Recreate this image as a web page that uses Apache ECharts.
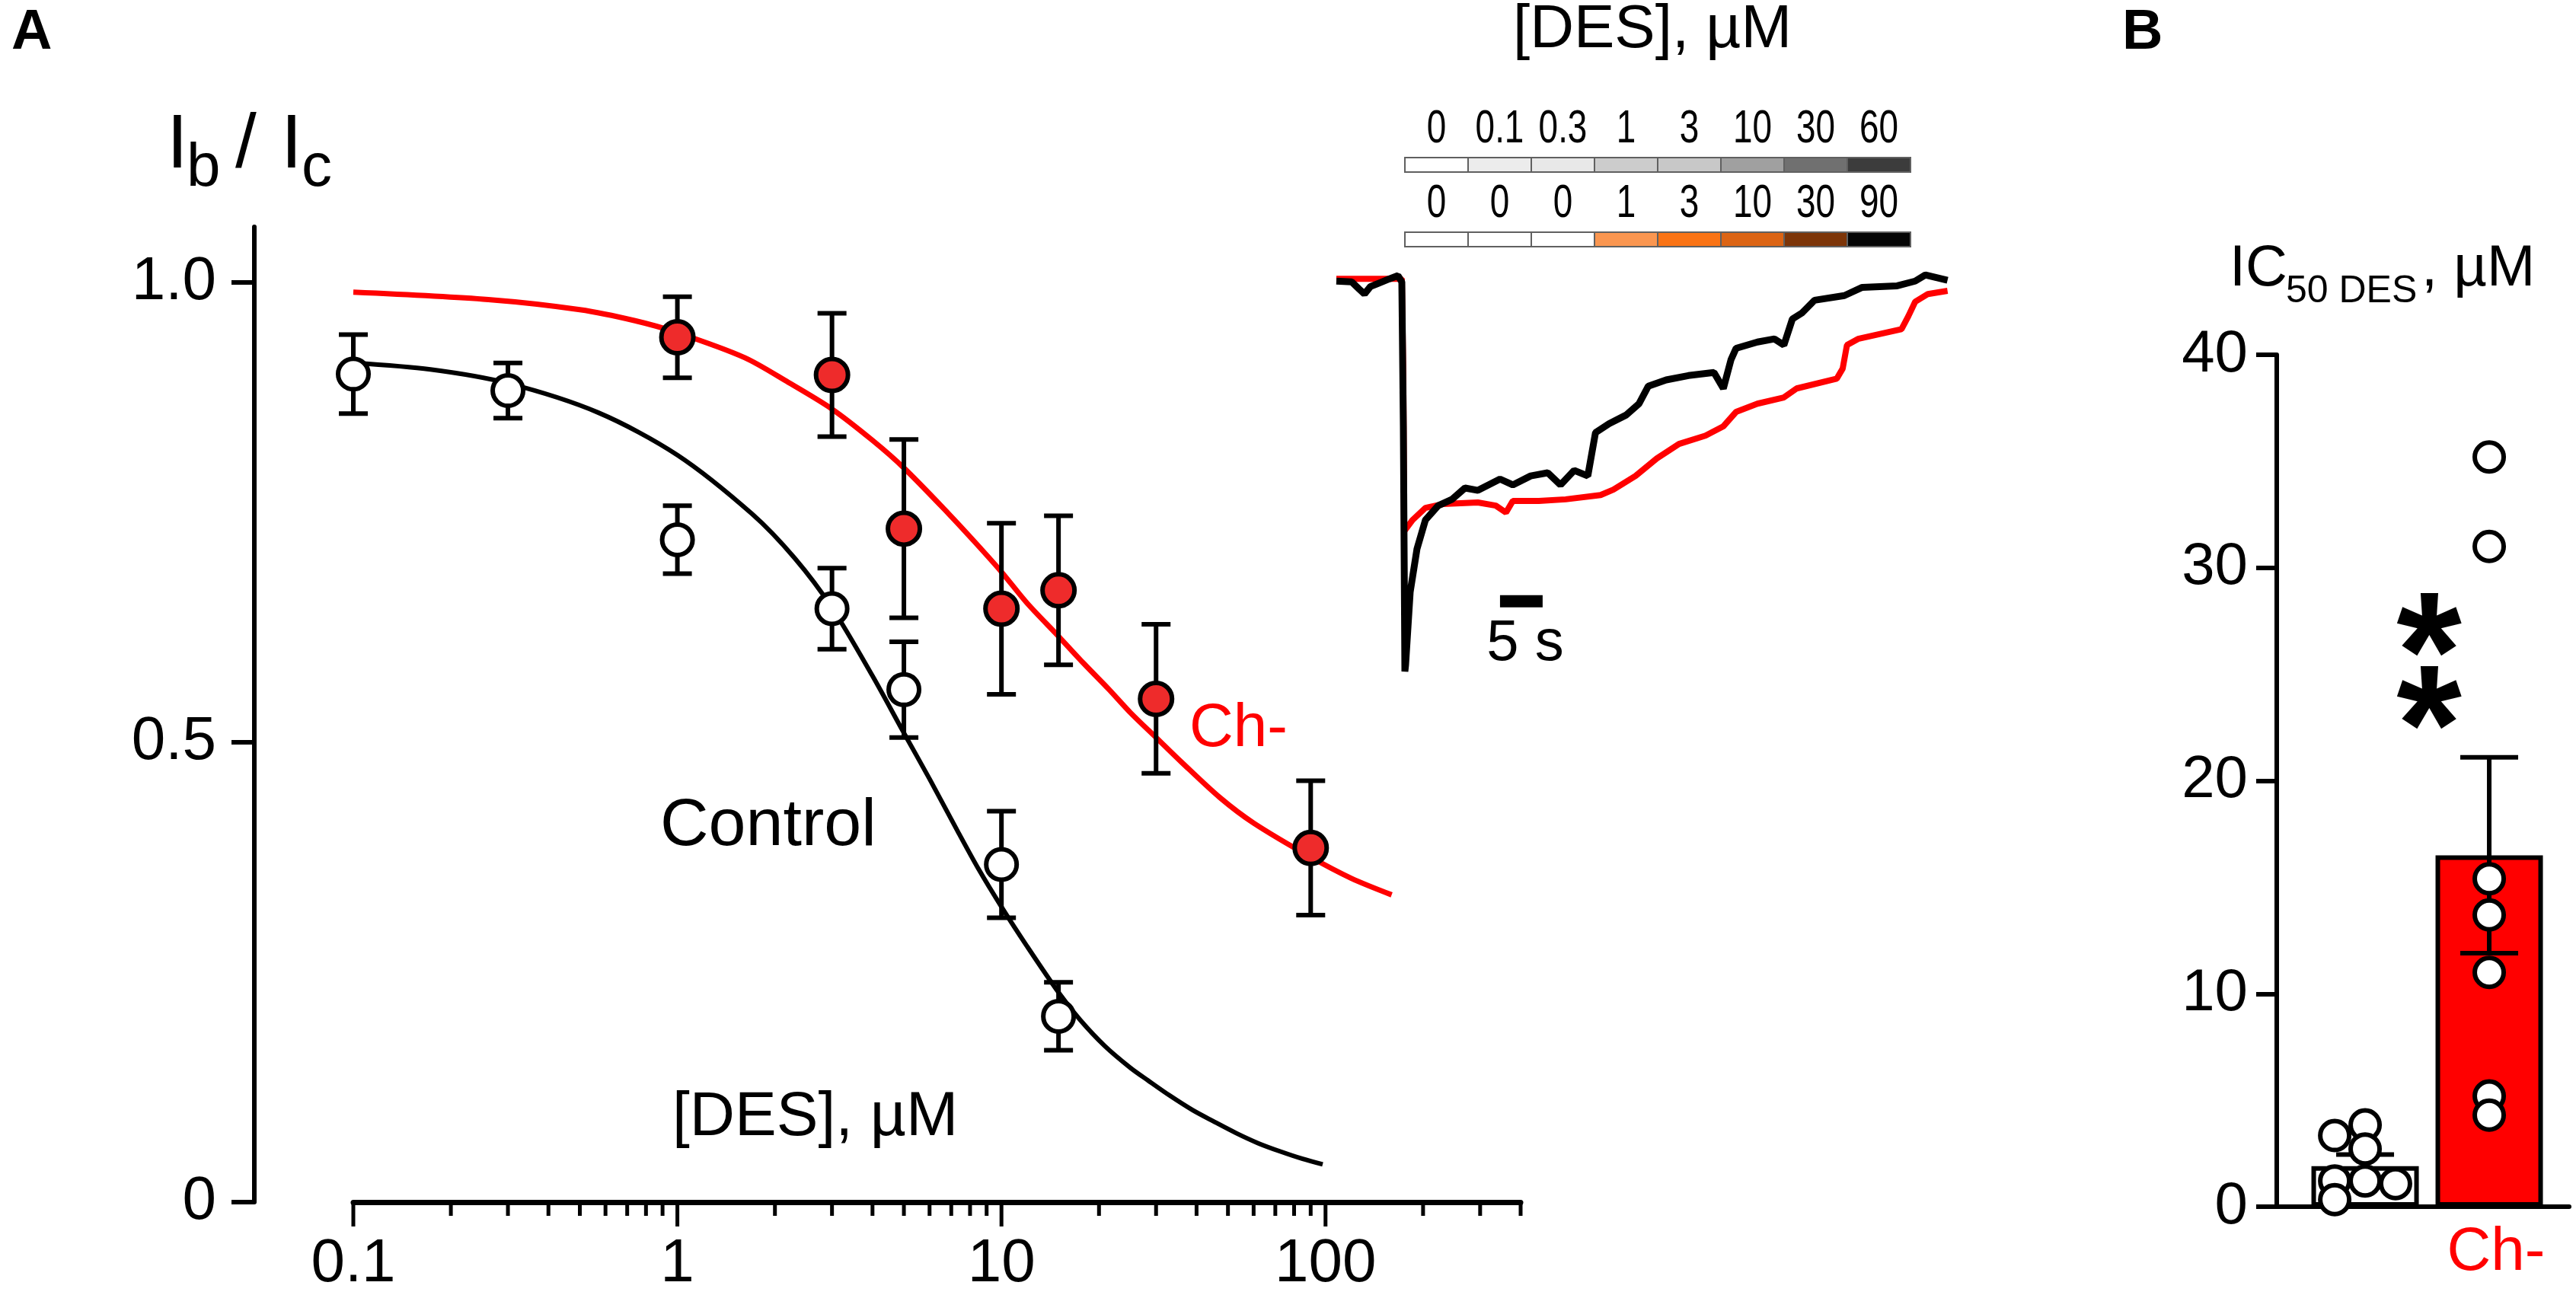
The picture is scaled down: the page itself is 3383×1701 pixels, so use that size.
<!DOCTYPE html>
<html lang="en">
<head>
<meta charset="UTF-8">
<title>DES block, control vs Ch-</title>
<script src="https://cdn.jsdelivr.net/npm/echarts@6.0.0/dist/echarts.min.js"></script>
<style>
    html, body { margin: 0; padding: 0; background: #fff; }
    #main { width: 3383px; height: 1701px; }
</style>
</head>
<body>
<div id="main"></div>
<script type="text/javascript">
// ---- panel A: concentration-response ----
var ctrlConc = [0.1, 0.3, 1, 3, 5, 10, 15];
var ctrlMean = [0.900, 0.882, 0.720, 0.645, 0.557, 0.367, 0.202];
var ctrlSem  = [0.043, 0.030, 0.037, 0.044, 0.052, 0.058, 0.037];

var chConc = [1, 3, 5, 10, 15, 30, 90];
var chMean = [0.940, 0.899, 0.732, 0.645, 0.665, 0.547, 0.385];
var chSem  = [0.044, 0.067, 0.097, 0.093, 0.081, 0.081, 0.073];

// fitted curves
var ctrlFitX = [0.1, 0.173, 0.3, 0.571, 1, 1.7, 2.3, 3, 4, 5, 6, 7.28, 8.5, 10, 12, 15, 17.5, 20.8,
                25, 28.4, 33, 38.9, 45, 53, 62, 72.6, 85, 98];
var ctrlFitY = [0.912, 0.905, 0.890, 0.858, 0.812, 0.748, 0.700, 0.646, 0.572, 0.510, 0.460, 0.405,
                0.362, 0.321, 0.278, 0.228, 0.198, 0.170, 0.146, 0.132, 0.116, 0.100, 0.088, 0.075,
                0.064, 0.055, 0.047, 0.041];
var chFitX = [0.1, 0.261, 0.5, 0.74, 1, 1.61, 2.2, 3, 4, 5, 6.88, 8.3, 10, 12, 15, 18, 21.5, 25, 30,
              36, 47.1, 60, 90, 120, 160];
var chFitY = [0.989, 0.981, 0.970, 0.958, 0.945, 0.918, 0.891, 0.862, 0.828, 0.798, 0.748, 0.717,
              0.685, 0.651, 0.615, 0.585, 0.557, 0.532, 0.505, 0.478, 0.440, 0.412, 0.375, 0.352, 0.334];

var xMajor = [0.1, 1, 10, 100];
var xMinor = [0.2, 0.3, 0.4, 0.5, 0.6, 0.7, 0.8, 0.9, 2, 3, 4, 5, 6, 7, 8, 9,
              20, 30, 40, 50, 60, 70, 80, 90, 200, 300, 400];
var yTicksA = [0, 0.5, 1];

// ---- inset: current traces (time s, normalised current) ----
var ctrlTraceT = [0, 1.8, 2.7, 3.3, 4.0, 4.9, 6.25, 7.23, 7.68, 7.86, 8.04, 8.12, 8.66, 9.46, 10.45, 11.96,
                  13.57, 15.09, 16.61, 19.2, 20.7, 22.8, 24.8, 26.3, 27.9, 29.5, 30.4, 32.0, 34.0, 35.5,
                  36.6, 38.7, 41.3, 44.3, 45.4, 46.3, 46.9, 49.4, 51.4, 52.5, 53.5, 54.6, 56.1, 59.6,
                  61.7, 65.8, 67.9, 69.1, 71.7];
var ctrlTraceI = [0, -0.002, -0.021, -0.033, -0.014, -0.006, 0.006, 0.014, -0.002, -0.372, -1.0, -0.984, -0.797,
                  -0.686, -0.612, -0.575, -0.559, -0.530, -0.536, -0.507, -0.522, -0.499, -0.491, -0.522,
                  -0.485, -0.499, -0.388, -0.365, -0.343, -0.314, -0.269, -0.253, -0.242, -0.234, -0.275,
                  -0.201, -0.172, -0.156, -0.148, -0.164, -0.097, -0.082, -0.049, -0.037, -0.016, -0.012,
                  0, 0.016, 0.002];
var chTraceT = [0, 7.68, 7.86, 7.95, 8.93, 10.45, 12.5, 16.6, 18.7, 19.9, 20.7, 23.75, 26.9, 31.0, 32.5, 35.1,
                37.6, 40.2, 43.3, 45.4, 46.9, 49.4, 52.5, 54.0, 58.7, 59.4, 59.9, 61.2, 66.3, 67.1, 67.9,
                69.4, 71.7];
var chTraceI = [0.006, 0.006, -0.255, -0.641, -0.612, -0.581, -0.571, -0.567, -0.575, -0.593, -0.563, -0.563,
                -0.559, -0.548, -0.534, -0.499, -0.454, -0.417, -0.396, -0.372, -0.335, -0.314, -0.298,
                -0.275, -0.250, -0.224, -0.164, -0.148, -0.123, -0.090, -0.053, -0.033, -0.025];
var scaleBarT = [19.2, 24.2];

var stepLabelsCtrl = ['0', '0.1', '0.3', '1', '3', '10', '30', '60'];
var stepLabelsCh   = ['0', '0', '0', '1', '3', '10', '30', '90'];
var stepGray   = ['#ffffff', '#ececec', '#e8e8e8', '#cccccc', '#c8c8c8', '#a0a0a0', '#707070', '#3c3c3c'];
var stepOrange = ['#ffffff', '#ffffff', '#ffffff', '#fa9650', '#fa7314', '#dc6414', '#7d3508', '#050505'];

// ---- panel B: IC50 ----
var groups = ['Control', 'Ch-'];
var icMean = [1.9, 16.5];
var icSem  = [0.55, 4.6];
var icCtrl = [3.34, 3.84, 2.71, 1.21, 1.21, 1.08, 0.33];
var icCtrlCol = [-1, 0, 0, -1, 0, 1, -1];
var icCh = [35.2, 31.0, 15.4, 13.7, 11.0, 5.2, 4.3];

var FONT = "'Liberation Sans', Arial, Helvetica, sans-serif";
var RED = '#ff0000';

function zip(a, b) {
    var out = [];
    for (var i = 0; i < a.length; i++) out.push([a[i], b[i]]);
    return out;
}
function zip3(a, b, c) {
    var out = [];
    for (var i = 0; i < a.length; i++) out.push([a[i], b[i], c[i]]);
    return out;
}

// vertical error bar with caps
function errorBar(capHalf, width) {
    return function (params, api) {
        var x = api.value(0), m = api.value(1), e = api.value(2);
        var top = api.coord([x, m + e]);
        var bot = api.coord([x, m - e]);
        var st = {stroke: '#000', lineWidth: width};
        return {
            type: 'group',
            children: [
                {type: 'line', shape: {x1: top[0], y1: top[1], x2: bot[0], y2: bot[1]}, style: st},
                {type: 'line', shape: {x1: top[0] - capHalf, y1: top[1], x2: top[0] + capHalf, y2: top[1]}, style: st},
                {type: 'line', shape: {x1: bot[0] - capHalf, y1: bot[1], x2: bot[0] + capHalf, y2: bot[1]}, style: st}
            ]
        };
    };
}

var xTickData = xMajor.map(function (v) { return [v, 0, 1]; })
    .concat(xMinor.map(function (v) { return [v, 0, 0]; }));

var stepCells = [];
stepLabelsCtrl.forEach(function (l, i) { stepCells.push({i: i, row: 0, label: l, color: stepGray[i]}); });
stepLabelsCh.forEach(function (l, i) { stepCells.push({i: i, row: 1, label: l, color: stepOrange[i]}); });

var jitterStep = 0.245;
var ctrlDots = icCtrl.map(function (v, i) { return [1 + icCtrlCol[i] * jitterStep, v]; });
var chDots = icCh.map(function (v) { return [2, v]; });

function txt(x, y, s, size, opts) {
    opts = opts || {};
    return {
        type: 'text', x: x, y: y, z: 50,
        style: {
            text: s, fontSize: size, fontFamily: FONT, fontWeight: opts.bold ? 'bold' : 'normal',
            fill: opts.color || '#000', align: opts.align || 'left', verticalAlign: 'middle'
        }
    };
}

var myChart = echarts.init(document.getElementById('main'));
myChart.setOption({
    backgroundColor: '#ffffff',
    animation: false,
    textStyle: {fontFamily: FONT, color: '#000'},
    grid: [
        {left: 464, top: 298, width: 1533, height: 1289},   // A
        {left: 1755, top: 359, width: 806, height: 523},    // inset traces
        {left: 1845, top: 207, width: 664, height: 98},     // step bars
        {left: 2990, top: 466, width: 384, height: 1119}    // B
    ],
    xAxis: [
        {
            gridIndex: 0, type: 'log', logBase: 10, min: 0.1, max: 400,
            axisLine: {show: true, onZero: false, lineStyle: {color: '#000', width: 7}},
            axisTick: {show: false},
            splitLine: {show: false},
            axisLabel: {
                fontSize: 80, color: '#000', margin: 42, fontFamily: FONT,
                formatter: function (v) {
                    for (var i = 0; i < xMajor.length; i++) {
                        if (Math.abs(v - xMajor[i]) < 1e-6 * xMajor[i]) return String(xMajor[i]);
                    }
                    return '';
                }
            }
        },
        {gridIndex: 1, type: 'value', min: 0, max: 72, show: false},
        {gridIndex: 2, type: 'value', min: 0, max: 8, show: false},
        {
            gridIndex: 3, type: 'value', min: 0.288, max: 2.644,
            axisLine: {show: true, onZero: false, lineStyle: {color: '#000', width: 6}},
            axisTick: {show: false}, axisLabel: {show: false}, splitLine: {show: false}
        }
    ],
    yAxis: [
        {
            gridIndex: 0, type: 'value', min: 0, max: 1.06, offset: 130,
            axisLine: {show: true, onZero: false, lineStyle: {color: '#000', width: 6}},
            axisTick: {show: true, length: 30, customValues: yTicksA, lineStyle: {color: '#000', width: 6}},
            splitLine: {show: false},
            axisLabel: {
                fontSize: 80, color: '#000', margin: 50, fontFamily: FONT, customValues: yTicksA,
                formatter: function (v) {
                    if (yTicksA.indexOf(v) < 0) return '';
                    return v === 0 ? '0' : v.toFixed(1);
                }
            }
        },
        {gridIndex: 1, type: 'value', min: -1, max: 0.02, show: false},
        {gridIndex: 2, type: 'value', min: 0, max: 1, inverse: true, show: false},
        {
            gridIndex: 3, type: 'value', min: 0, max: 40, interval: 10,
            axisLine: {show: true, onZero: false, lineStyle: {color: '#000', width: 6}},
            axisTick: {show: true, length: 27, lineStyle: {color: '#000', width: 6}},
            splitLine: {show: false},
            axisLabel: {fontSize: 78, color: '#000', margin: 38, fontFamily: FONT}
        }
    ],
    graphic: [
        txt(15, 44, 'A', 74, {bold: true}),
        txt(2787, 44, 'B', 74, {bold: true}),
        // Ib / Ic
        txt(219, 192, 'I', 100),
        txt(245, 222, 'b', 80),
        txt(323, 192, '/', 100, {align: 'center'}),
        txt(369, 192, 'I', 100),
        txt(396, 222, 'c', 80),
        txt(883, 1468, '[DES], \u00b5M', 82),
        txt(867, 1086, 'Control', 88),
        txt(1562, 958, 'Ch-', 80, {color: RED}),
        // inset
        txt(2170, 40, '[DES], \u00b5M', 80, {align: 'center'}),
        txt(2003, 846, '5 s', 76, {align: 'center'}),
        // panel B
        txt(2928, 354, 'IC', 76),
        txt(3002, 383, '50 DES', 50),
        txt(3180, 354, ', \u00b5M', 76),
        txt(3278, 1646, 'Ch-', 80, {color: RED, align: 'center'}),
        txt(3190, 870, '*', 220, {bold: true, align: 'center'}),
        txt(3190, 966, '*', 220, {bold: true, align: 'center'})
    ],
    series: [
        {
            name: 'ctrl fit', type: 'line', xAxisIndex: 0, yAxisIndex: 0, z: 2,
            data: zip(ctrlFitX, ctrlFitY), smooth: 0.3, showSymbol: false,
            lineStyle: {color: '#000', width: 6}
        },
        {
            name: 'ch fit', type: 'line', xAxisIndex: 0, yAxisIndex: 0, z: 2,
            data: zip(chFitX, chFitY), smooth: 0.3, showSymbol: false,
            lineStyle: {color: RED, width: 7}
        },
        {
            name: 'x ticks', type: 'custom', xAxisIndex: 0, yAxisIndex: 0, z: 3,
            data: xTickData, encode: {x: 0, y: 1},
            renderItem: function (params, api) {
                var p = api.coord([api.value(0), 0]);
                var len = api.value(2) ? 32 : 18;
                return {type: 'line', shape: {x1: p[0], y1: p[1], x2: p[0], y2: p[1] + len},
                        style: {stroke: '#000', lineWidth: 5}};
            }
        },
        {
            name: 'ctrl err', type: 'custom', xAxisIndex: 0, yAxisIndex: 0, z: 4,
            data: zip3(ctrlConc, ctrlMean, ctrlSem), encode: {x: 0, y: 1},
            renderItem: errorBar(19, 6)
        },
        {
            name: 'ch err', type: 'custom', xAxisIndex: 0, yAxisIndex: 0, z: 4,
            data: zip3(chConc, chMean, chSem), encode: {x: 0, y: 1},
            renderItem: errorBar(19, 6)
        },
        {
            name: 'Control', type: 'scatter', xAxisIndex: 0, yAxisIndex: 0, z: 5,
            data: zip(ctrlConc, ctrlMean), symbol: 'circle', symbolSize: 40,
            itemStyle: {color: '#ffffff', borderColor: '#000', borderWidth: 6, opacity: 1}
        },
        {
            name: 'Ch-', type: 'scatter', xAxisIndex: 0, yAxisIndex: 0, z: 5,
            data: zip(chConc, chMean), symbol: 'circle', symbolSize: 42,
            itemStyle: {color: '#ee2b2b', borderColor: '#000', borderWidth: 6, opacity: 1}
        },
        // inset
        {
            name: 'steps', type: 'custom', xAxisIndex: 2, yAxisIndex: 2, z: 3,
            data: stepCells.map(function (c) { return [c.i, c.row]; }), encode: {x: 0, y: 1},
            renderItem: function (params, api) {
                var c = stepCells[params.dataIndex];
                var p0 = api.coord([c.i, c.row]);
                var p1 = api.coord([c.i + 1, c.row]);
                return {
                    type: 'group',
                    children: [
                        {type: 'rect', shape: {x: p0[0], y: p0[1], width: p1[0] - p0[0], height: 19},
                         style: {fill: c.color, stroke: '#606060', lineWidth: 2}},
                        {type: 'text', x: (p0[0] + p1[0]) / 2, y: p0[1] - 37, scaleX: 0.74,
                         style: {text: c.label, fontSize: 62, fontFamily: FONT, fill: '#000',
                                 align: 'center', verticalAlign: 'middle'}}
                    ]
                };
            }
        },
        {
            name: 'ch trace', type: 'line', xAxisIndex: 1, yAxisIndex: 1, z: 3,
            data: zip(chTraceT, chTraceI), showSymbol: false,
            lineStyle: {color: RED, width: 8}
        },
        {
            name: 'ctrl trace', type: 'line', xAxisIndex: 1, yAxisIndex: 1, z: 4,
            data: zip(ctrlTraceT, ctrlTraceI), showSymbol: false,
            lineStyle: {color: '#000', width: 9}
        },
        {
            name: 'scale bar', type: 'line', xAxisIndex: 1, yAxisIndex: 1, z: 4,
            data: [[scaleBarT[0], -0.82], [scaleBarT[1], -0.82]], showSymbol: false,
            lineStyle: {color: '#000', width: 16, cap: 'butt'}
        },
        // panel B
        {
            name: 'IC50', type: 'bar', xAxisIndex: 3, yAxisIndex: 3, z: 2, barWidth: 141,
            data: [
                {value: [1, icMean[0]], itemStyle: {color: '#ffffff'}},
                {value: [2, icMean[1]], itemStyle: {color: RED}}
            ],
            itemStyle: {borderColor: '#000', borderWidth: 6}
        },
        {
            name: 'IC50 err', type: 'custom', xAxisIndex: 3, yAxisIndex: 3, z: 3,
            data: [[1, icMean[0], icSem[0]], [2, icMean[1], icSem[1]]], encode: {x: 0, y: 1},
            renderItem: errorBar(38, 6)
        },
        {
            name: 'IC50 Control', type: 'scatter', xAxisIndex: 3, yAxisIndex: 3, z: 5,
            data: ctrlDots, symbol: 'circle', symbolSize: 38,
            itemStyle: {color: '#ffffff', borderColor: '#000', borderWidth: 6, opacity: 1}
        },
        {
            name: 'IC50 Ch-', type: 'scatter', xAxisIndex: 3, yAxisIndex: 3, z: 5,
            data: chDots, symbol: 'circle', symbolSize: 38,
            itemStyle: {color: '#ffffff', borderColor: '#000', borderWidth: 6, opacity: 1}
        }
    ]
});
</script>
</body>
</html>
